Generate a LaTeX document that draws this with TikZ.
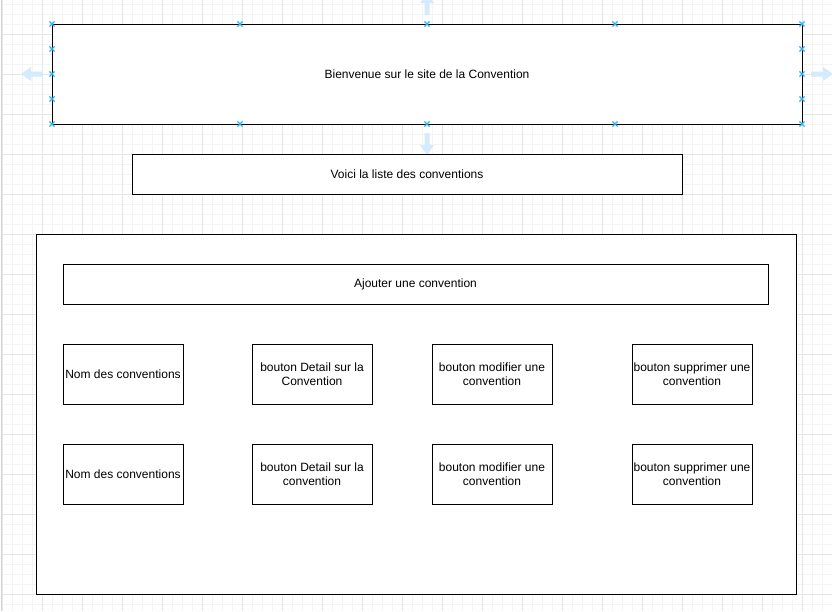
\documentclass[tikz,border=0pt]{standalone}
\usepackage{fontspec}
\setmainfont{Liberation Sans}
\usetikzlibrary{positioning}

\definecolor{minorgrid}{HTML}{F4F4F4}
\definecolor{majorgrid}{HTML}{E6E6E6}
\definecolor{handleblue}{HTML}{29B6F2}
\definecolor{hoverblue}{HTML}{D3EBFB}

\tikzset{
  box/.style={draw=black, line width=0.9pt, fill=white, inner sep=0pt,
    font=\fontsize{12}{14}\selectfont, align=center},
  handle/.style={draw=handleblue, line width=1.1pt},
  hoverarrow/.style={fill=hoverblue, draw=none}
}

\newcommand{\handlemark}[1]{%
  \draw[handle] ($(#1)+(-2.6,-2.6)$) -- ($(#1)+(2.6,2.6)$);
  \draw[handle] ($(#1)+(-2.6,2.6)$) -- ($(#1)+(2.6,-2.6)$);}

\usetikzlibrary{calc}

\begin{document}
\begin{tikzpicture}[x=1pt,y=-1pt]
    \useasboundingbox (0,0) rectangle (832,611);
    \fill[white] (0,0) rectangle (832,611);

    % grid
    \foreach \gx in {2.7,12.7,...,832} \draw[minorgrid,line width=0.8pt] (\gx,0) -- (\gx,611);
    \foreach \gy in {4,14,...,611} \draw[minorgrid,line width=0.8pt] (3,\gy) -- (832,\gy);
    \foreach \gx in {2.7,42.7,...,832} \draw[majorgrid,line width=0.8pt] (\gx,0) -- (\gx,611);
    \foreach \gy in {34,74,...,611} \draw[majorgrid,line width=0.8pt] (3,\gy) -- (832,\gy);
    \draw[gray!35,line width=1pt] (1.5,0) -- (1.5,611);

    % header
    \node[box, minimum width=750, minimum height=100] (accueil) at (427,74)
      {Bienvenue sur le site de la Convention};
    \node[box, minimum width=550, minimum height=40] (liste) at (407,174)
      {Voici la liste des conventions};

    % hover arrows round the header
    \fill[hoverarrow] (424.5,15) -- (424.5,3) -- (420,3) -- (427,-7) -- (434,3) -- (429.5,3) -- (429.5,15) -- cycle;
    \fill[hoverarrow] (424.5,133) -- (424.5,145) -- (420,145) -- (427,155) -- (434,145) -- (429.5,145) -- (429.5,133) -- cycle;
    \fill[hoverarrow] (43,71.5) -- (31,71.5) -- (31,67) -- (21,74) -- (31,81) -- (31,76.5) -- (43,76.5) -- cycle;
    \fill[hoverarrow] (811,71.5) -- (823,71.5) -- (823,67) -- (833,74) -- (823,81) -- (823,76.5) -- (811,76.5) -- cycle;
    \node[box, minimum width=550, minimum height=40] at (liste) {Voici la liste des conventions};

    % selection handles
    \foreach \hx in {52,240,427,615,802} {
      \handlemark{\hx,24}
      \handlemark{\hx,124}
    }
    \foreach \hy in {49,74,99} {
      \handlemark{52,\hy}
      \handlemark{802,\hy}
    }

    % liste des conventions
    \node[box, minimum width=760, minimum height=360] (cadre) at (416,414) {};
    \node[box, minimum width=705, minimum height=40] (ajouter) at (415.5,284)
      {Ajouter une convention};

    \node[box, minimum width=120, minimum height=60] (nomA) at (123,374) {Nom des conventions};
    \node[box, minimum width=120, minimum height=60] (detailA) at (312,374) {bouton Detail sur la\\Convention};
    \node[box, minimum width=120, minimum height=60] (modifA) at (492,374) {bouton modifier une\\convention};
    \node[box, minimum width=120, minimum height=60] (supprA) at (692,374) {bouton supprimer une\\convention};

    \node[box, minimum width=120, minimum height=60] (nomB) at (123,474) {Nom des conventions};
    \node[box, minimum width=120, minimum height=60] (detailB) at (312,474) {bouton Detail sur la\\convention};
    \node[box, minimum width=120, minimum height=60] (modifB) at (492,474) {bouton modifier une\\convention};
    \node[box, minimum width=120, minimum height=60] (supprB) at (692,474) {bouton supprimer une\\convention};

\end{tikzpicture}
\end{document}
